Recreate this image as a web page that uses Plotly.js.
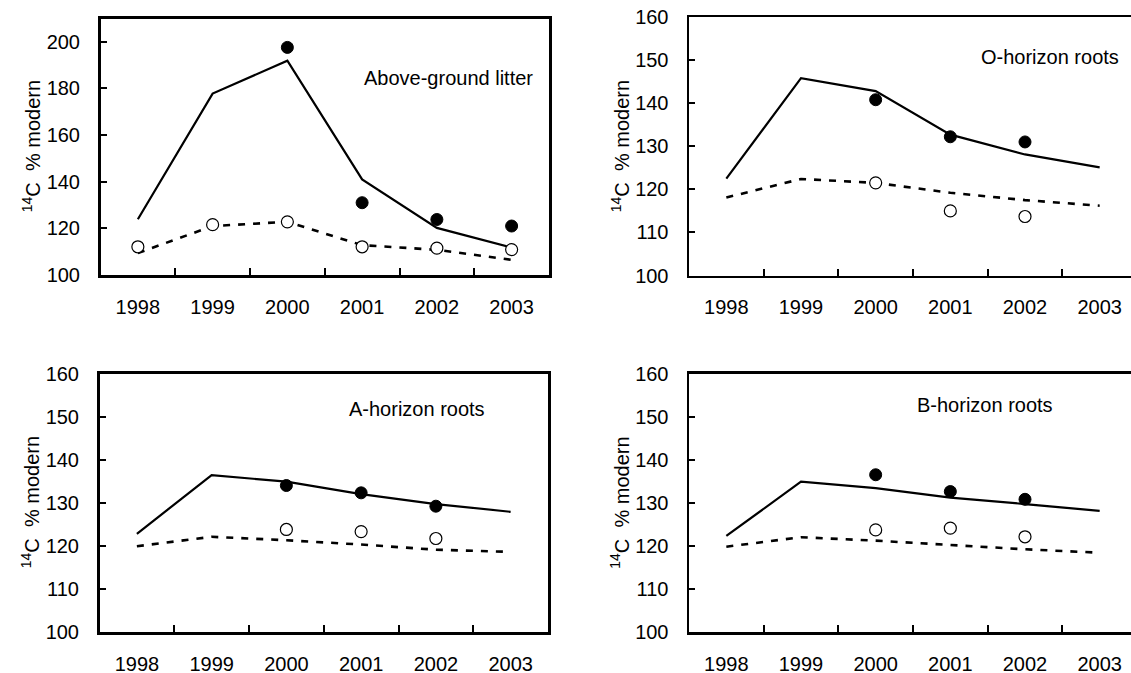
<!DOCTYPE html>
<html>
<head>
<meta charset="utf-8">
<script src="https://cdn.plot.ly/plotly-3.0.1.min.js"></script>
<style>
html,body{margin:0;padding:0;overflow:hidden;background:#fff;}
#chart{width:1150px;height:673px;}
</style>
</head>
<body>
<div id="chart"></div>
<script>
// ---- data ----
const years = ['1998','1999','2000','2001','2002','2003'];

const panelTitles = ['Above-ground litter','O-horizon roots','A-horizon roots','B-horizon roots'];

const litterSolid  = [123.9,177.8,191.9,141.0,120.2,111.8];
const litterDashed = [109.4,121.0,122.8,112.8,110.8,106.5];
const litterFilled = [null,null,197.6,131.0,123.8,121.0];
const litterOpen   = [112.1,121.6,122.8,112.1,111.5,110.9];

const oSolid  = [122.5,145.8,142.8,132.7,128.1,125.1];
const oDashed = [118.1,122.4,121.5,119.2,117.5,116.2];
const oFilled = [null,null,140.8,132.2,131.0,null];
const oOpen   = [null,null,121.5,115.0,113.7,null];

const aSolid  = [122.8,136.4,134.9,132.0,129.7,127.9];
const aDashed = [119.9,122.1,121.3,120.3,119.1,118.6];
const aFilled = [null,null,134.0,132.3,129.2,null];
const aOpen   = [null,null,123.8,123.3,121.7,null];

const bSolid  = [122.3,134.9,133.4,131.2,129.7,128.1];
const bDashed = [119.8,122.0,121.2,120.2,119.2,118.4];
const bFilled = [null,null,136.5,132.6,130.8,null];
const bOpen   = [null,null,123.7,124.1,122.1,null];

const yRanges = [[100,210],[100,160],[100,160],[100,160]];
const yDticks = [20,10,10,10];

// ---- layout geometry (pixels) ----
const W = 1150, H = 673;
const boxes = [
  {l:100.5, r:549, t:18.5, b:275},
  {l:689,   r:1137, t:17,  b:275.5},
  {l:99.5,  r:548, t:373.5, b:632},
  {l:689,   r:1137, t:373.5, b:632}
];
const labelPos = [
  {x:362, y:78},
  {x:979, y:57},
  {x:347, y:409},
  {x:915, y:405}
];

const series = [
  [litterSolid, litterDashed, litterFilled, litterOpen],
  [oSolid, oDashed, oFilled, oOpen],
  [aSolid, aDashed, aFilled, aOpen],
  [bSolid, bDashed, bFilled, bOpen]
];

const FONT = 'Liberation Sans, Arial, sans-serif';
const traces = [];
const layout = {
  width: W, height: H,
  margin: {l:0, r:0, t:0, b:0},
  paper_bgcolor: '#fff', plot_bgcolor: '#fff',
  showlegend: false,
  font: {family: FONT, size: 20, color: '#000'},
  annotations: []
};

series.forEach((s, i) => {
  const n = i + 1;
  const xa = n === 1 ? 'x' : 'x' + n;
  const ya = n === 1 ? 'y' : 'y' + n;
  traces.push({x: years, y: s[0], xaxis: xa, yaxis: ya, type: 'scatter', mode: 'lines',
    line: {color: '#000', width: 2.2}, hoverinfo: 'skip'});
  traces.push({x: years, y: s[1], xaxis: xa, yaxis: ya, type: 'scatter', mode: 'lines',
    line: {color: '#000', width: 2.6, dash: '7px,8px'}, hoverinfo: 'skip'});
  traces.push({x: years, y: s[2], xaxis: xa, yaxis: ya, type: 'scatter', mode: 'markers',
    marker: {symbol: 'circle', size: 12, color: '#000', line: {color: '#000', width: 1}}});
  traces.push({x: years, y: s[3], xaxis: xa, yaxis: ya, type: 'scatter', mode: 'markers',
    marker: {symbol: 'circle', size: 12, color: '#fff', line: {color: '#000', width: 1.2}}});

  const bx = boxes[i];
  const xKey = n === 1 ? 'xaxis' : 'xaxis' + n;
  const yKey = n === 1 ? 'yaxis' : 'yaxis' + n;
  layout[xKey] = {
    domain: [bx.l / W, bx.r / W], anchor: ya,
    type: 'category', categoryorder: 'array', categoryarray: years,
    range: [-0.5, 5.5], fixedrange: true,
    showline: true, linecolor: '#000', linewidth: 2.5, mirror: true,
    showgrid: false, zeroline: false,
    ticks: 'inside', tickson: 'boundaries', ticklen: 7, tickwidth: 2, tickcolor: '#000',
    ticklabelstandoff: 12,
    tickfont: {family: FONT, size: 20, color: '#000'}
  };
  layout[yKey] = {
    domain: [1 - bx.b / H, 1 - bx.t / H], anchor: xa,
    range: yRanges[i], dtick: yDticks[i], tick0: 100, fixedrange: true,
    showline: true, linecolor: '#000', linewidth: 2.5, mirror: true,
    showgrid: false, zeroline: false,
    ticks: 'inside', ticklen: 6, tickwidth: 2, tickcolor: '#000',
    ticklabelstandoff: 14,
    tickfont: {family: FONT, size: 20, color: '#000'}
  };
  layout.annotations.push({
    xref: 'paper', yref: 'paper',
    x: labelPos[i].x / W, y: 1 - labelPos[i].y / H,
    xanchor: 'left', yanchor: 'middle', showarrow: false,
    text: panelTitles[i], font: {family: FONT, size: 20, color: '#000'}
  });
  layout.annotations.push({
    xref: 'paper', yref: 'paper',
    x: (bx.l - 69) / W, y: 1 - ((bx.t + bx.b) / 2) / H,
    xanchor: 'center', yanchor: 'middle', showarrow: false, textangle: -90,
    text: '<sup>14</sup>C&nbsp; % modern', font: {family: FONT, size: 20, color: '#000'}
  });
});

Plotly.newPlot('chart', traces, layout, {staticPlot: true, displayModeBar: false});
</script>
</body>
</html>
